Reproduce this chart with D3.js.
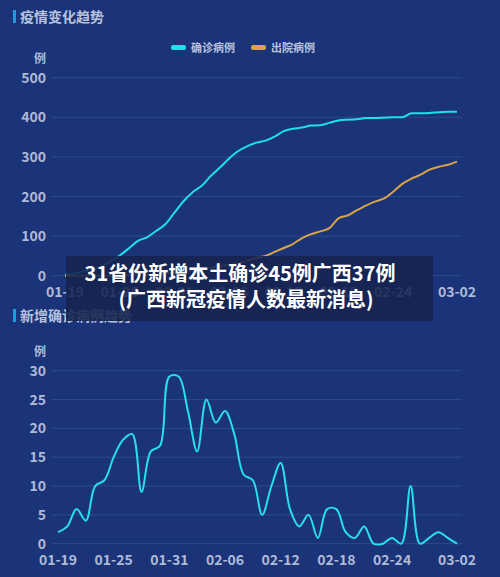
<!DOCTYPE html>
<html><head><meta charset="utf-8">
<script src="https://cdn.jsdelivr.net/npm/d3@7"></script>
<style>body{margin:0;background:#1b3479;}svg{display:block;font-family:"Noto Sans CJK SC","Noto Sans",sans-serif;}</style>
</head><body><div id="chart"></div>
<script>
const dates = ["01-19","01-20","01-21","01-22","01-23","01-24","01-25","01-26","01-27","01-28","01-29","01-30","01-31",
  "02-01","02-02","02-03","02-04","02-05","02-06","02-07","02-08","02-09","02-10","02-11","02-12","02-13","02-14","02-15",
  "02-16","02-17","02-18","02-19","02-20","02-21","02-22","02-23","02-24","02-25","02-26","02-27","02-28","02-29","03-01","03-02"];
const tickDates = ["01-19","01-25","01-31","02-06","02-12","02-18","02-24","03-02"];
const confirmed = [2,5,11,15,25,36,51,69,88,97,113,130,159,188,211,227,252,273,296,315,327,336,341,351,365,371,374,379,380,386,392,394,395,398,398,399,400,400,410,410,411,413,414,414];
const discharged = [0,0,0,0,0,0,1,1,2,2,3,5,8,10,13,17,20,24,28,32,38,45,50,60,70,80,95,105,112,120,145,152,165,177,187,195,212,232,245,255,268,275,280,288];
const daily = [2,3,6,4,10,11,15,18,19,9,16,17,29,29,23,16,25,21,23,19,12,11,5,10,14,6,3,5,1,6,6,2,1,3,0,0,1,0,10,0,1,2,1,0];
const topTicks = [0,100,200,300,400,500];
const bottomTicks = [0,5,10,15,20,25,30];

const W = 500, H = 577;
const svg = d3.select("#chart").append("svg").attr("width", W).attr("height", H);
svg.append("rect").attr("width", W).attr("height", H).attr("fill", "#1b3479");

const labelColor = "#aebad8";

function panel(top, title, yMax, ticks, yTop, yZero, xLeft, xRight, series, curve, legend) {
    svg.append("rect").attr("x", 13).attr("y", top - 7).attr("width", 3).attr("height", 13).attr("fill", "#1c9be0");
    svg.append("text").attr("x", 20).attr("y", top + 5).text(title)
        .attr("fill", "#b6c2de").style("font-size", "14px").style("font-weight", "bold");

    const x = d3.scalePoint().domain(dates).range([xLeft, xRight]);
    const y = d3.scaleLinear().domain([0, yMax]).range([yZero, yTop]);

    svg.append("g").selectAll("line").data(ticks).join("line")
        .attr("x1", 52).attr("x2", 462).attr("y1", d => y(d)).attr("y2", d => y(d))
        .attr("stroke", "#2d4a8f").attr("stroke-width", 1);
    svg.append("g").selectAll("text").data(ticks).join("text")
        .attr("x", 46).attr("y", d => y(d) + 5).attr("text-anchor", "end")
        .attr("fill", labelColor).style("font-size", "14px").style("font-weight", "bold").text(d => d);
    svg.append("text").attr("x", 40).attr("y", y(yMax) - 15).attr("text-anchor", "middle")
        .attr("fill", labelColor).style("font-size", "12px").style("font-weight", "bold").text("例");
    svg.append("g").selectAll("text").data(tickDates).join("text")
        .attr("x", d => x(d)).attr("y", yZero + 21).attr("text-anchor", "middle")
        .attr("fill", labelColor).style("font-size", "14px").style("font-weight", "bold").text(d => d);

    series.forEach(s => {
        const line = d3.line().x((d, i) => x(dates[i])).y(d => y(d)).curve(curve);
        svg.append("path").datum(s.values).attr("d", line)
            .attr("fill", "none").attr("stroke", s.color).attr("stroke-width", 2);
    });

    if (legend) {
        let lx = 171;
        series.forEach(s => {
            svg.append("rect").attr("x", lx).attr("y", 45).attr("width", 15).attr("height", 5).attr("rx", 2).attr("fill", s.color);
            svg.append("text").attr("x", lx + 20).attr("y", 52).attr("fill", "#b6c2de")
                .style("font-size", "11px").style("font-weight", "bold").text(s.name);
            lx += 80;
        });
    }
}

panel(17, "疫情变化趋势", 500, topTicks, 77.7, 275.7, 65, 457,
    [{name: "确诊病例", values: confirmed, color: "#1ee0ec"},
     {name: "出院病例", values: discharged, color: "#d9a443"}],
    d3.curveMonotoneX, true);

panel(316, "新增确诊病例趋势", 30, bottomTicks, 370.7, 543.7, 58, 457,
    [{name: "新增", values: daily, color: "#27dfef"}],
    d3.curveCatmullRom.alpha(0.5), false);

// caption banner
svg.append("rect").attr("x", 66).attr("y", 256).attr("width", 367).attr("height", 65).attr("fill", "#16234f").attr("opacity", 0.88);
svg.append("text").attr("x", 240).attr("y", 281).attr("text-anchor", "middle").attr("fill", "#fff")
    .style("font-size", "20px").style("font-weight", "bold").text("31省份新增本土确诊45例广西37例");
svg.append("text").attr("x", 246).attr("y", 307).attr("text-anchor", "middle").attr("fill", "#fff")
    .style("font-size", "20px").style("font-weight", "bold").text("(广西新冠疫情人数最新消息)");
</script></body></html>
